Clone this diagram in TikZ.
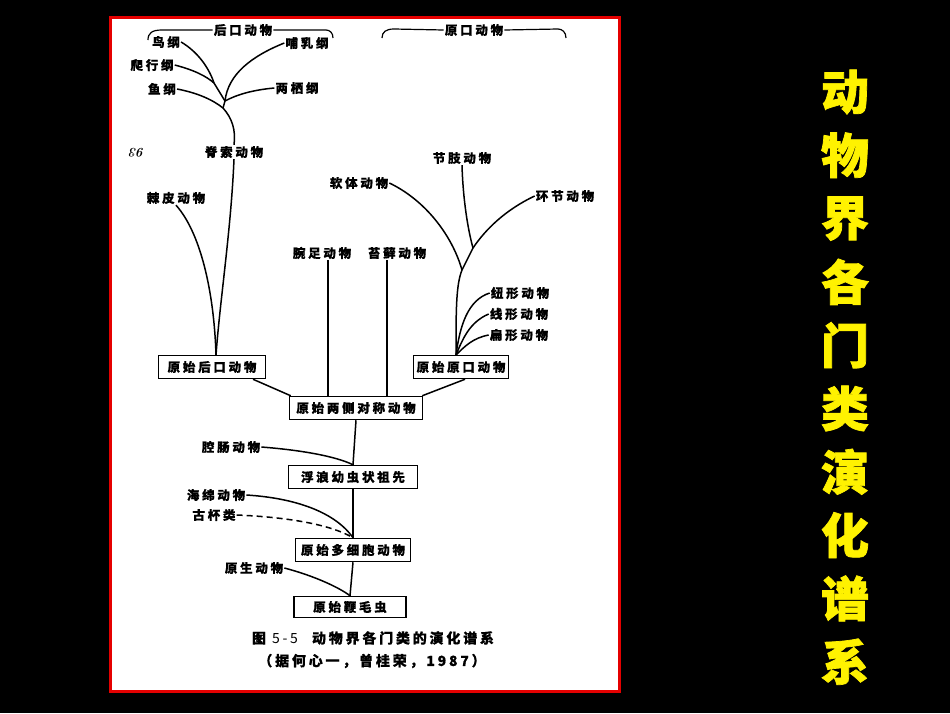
\documentclass[tikz,border=0pt]{standalone}
\usepackage{fontspec}
\newfontfamily\cjk[LetterSpace=22,BoldFeatures={FakeBold=0.6}]{Noto Sans CJK SC}
\newfontfamily\cjkcap[LetterSpace=20,BoldFeatures={FakeBold=0.5}]{Noto Sans CJK SC}
\newfontfamily\cjky[BoldFeatures={FakeBold=1.5}]{Noto Sans CJK SC}
\tikzset{
  lbl/.style={font=\cjk\bfseries\fontsize{12.5}{13}\selectfont, inner sep=1pt, text=black},
  boxn/.style={lbl, draw, line width=1.5pt, inner sep=2.5pt, minimum height=23pt},
  ln/.style={line width=1.5pt, black},
  brk/.style={line width=1.2pt, black},
  ylw/.style={font=\cjky\bfseries\fontsize{48}{48}\selectfont, text=yellow, inner sep=0pt},
  captxt/.style={font=\cjkcap\bfseries\fontsize{14}{15}\selectfont, inner sep=1pt}
}
\begin{document}
\begin{tikzpicture}[x=1pt,y=-1pt]
\useasboundingbox (0,0) rectangle (950,713);
\fill[black] (0,0) rectangle (950,713);
\fill[white] (110,17) rectangle (619,691);
\draw[red!90!black, line width=3pt] (110,17) rectangle (619,691);

% brackets
\node[lbl] (hou) at (243,30) {后口动物};
\node[lbl] (yuank) at (474,30) {原口动物};
\coordinate (hl) at (148,40); \coordinate (hr) at (333,38);
\coordinate (yl) at (382,38); \coordinate (yr) at (566,38);
\draw[brk] (hl) .. controls (148,33) and (152,30) .. (162,30) -- (hou.west);
\draw[brk] (hou.east) -- (326,30) .. controls (330,30) and (333,33) .. (hr);
\draw[brk] (yl) .. controls (382,32) and (386,29) .. (394,29) -- (yuank.west);
\draw[brk] (yuank.east) -- (558,29) .. controls (562,29) and (566,32) .. (yr);

% deuterostome labels
\node[lbl] (niao) at (166,42) {鸟纲};
\node[lbl] (bu) at (307,43) {哺乳纲};
\node[lbl] (pa) at (152,65) {爬行纲};
\node[lbl] (yu) at (162,89) {鱼纲};
\node[lbl] (liang) at (297,88) {两栖纲};
\node[lbl] (jisuo) at (234,152) {脊索动物};
\node[lbl, font=\bfseries\itshape\fontsize{13}{13}\selectfont, rotate=180] (pg) at (137,153) {93};
\node[lbl] (jipi) at (176,198) {棘皮动物};

% protostome labels
\node[lbl] (wan) at (322,253) {腕足动物};
\node[lbl] (tai) at (397,253) {苔藓动物};
\node[lbl] (ruan) at (359,183) {软体动物};
\node[lbl] (jie) at (462,158) {节肢动物};
\node[lbl] (huan) at (565,196) {环节动物};
\node[lbl] (niu) at (520,293) {纽形动物};
\node[lbl] (xian) at (519,314) {线形动物};
\node[lbl] (bian) at (519,335) {扁形动物};

% boxes
\node[boxn, minimum width=107pt] (hk) at (212,367) {原始后口动物};
\node[boxn, minimum width=95pt] (yk) at (461,367) {原始原口动物};
\node[boxn, minimum width=133pt] (ls) at (356,408) {原始两侧对称动物};
\node[boxn, minimum width=129pt] (fl) at (353,477) {浮浪幼虫状祖先};
\node[boxn, minimum width=115pt] (dx) at (353,550) {原始多细胞动物};
\node[boxn, minimum width=112pt, minimum height=21pt] (bm) at (350,607) {原始鞭毛虫};

\node[lbl] (qiang) at (231,447) {腔肠动物};
\node[lbl] (hai) at (216,495) {海绵动物};
\node[lbl] (gu) at (214,515) {古杯类};
\node[lbl] (ys) at (254,568) {原生动物};

% deuterostome tree
\coordinate (jA) at (214,83);
\coordinate (jB) at (225,101);
\coordinate (jC) at (223,108);
\coordinate (hkt) at (216,355);
\draw[ln] (niao.east) .. controls (198,52) and (209,68) .. (jA);
\draw[ln] (pa.east) .. controls (194,70) and (206,76) .. (jA);
\draw[ln] (jA) -- (jB);
\draw[ln] (bu.west) .. controls (252,56) and (228,74) .. (jB);
\draw[ln] (liang.west) .. controls (252,90) and (236,95) .. (jB);
\draw[ln] (jB) -- (jC);
\draw[ln] (yu.east) .. controls (198,93) and (213,100) .. (jC);
\draw[ln] (jC) .. controls (232,118) and (236,130) .. (jisuo.north);
\draw[ln] (jisuo.south) .. controls (231,230) and (220,300) .. (hkt);
\draw[ln] (jipi.south) .. controls (200,232) and (214,290) .. (hkt);

% protostome tree
\coordinate (jP) at (462,270);
\coordinate (jQ) at (473,248);
\coordinate (ykt) at (456,355);
\draw[ln] (ykt) .. controls (456,310) and (456,285) .. (jP);
\draw[ln] (ruan.east) .. controls (425,200) and (452,235) .. (jP);
\draw[ln] (jie.south) .. controls (463,200) and (468,230) .. (jQ);
\draw[ln] (huan.west) .. controls (505,210) and (485,230) .. (jQ) -- (jP);
\draw[ln] (niu.west) .. controls (468,300) and (460,325) .. (ykt);
\draw[ln] (xian.west) .. controls (470,322) and (463,338) .. (ykt);
\draw[ln] (bian.west) .. controls (473,338) and (465,346) .. (ykt);

% verticals
\draw[ln] ([xshift=6pt]wan.south) -- ([xshift=6pt]wan.south |- ls.north);
\draw[ln] ([xshift=-10pt]tai.south) -- ([xshift=-10pt]tai.south |- ls.north);

% box connections
\draw[ln] ([xshift=41pt]hk.south) -- ([xshift=2pt]ls.north west);
\draw[ln] ([xshift=4pt]yk.south) -- ([xshift=-1pt]ls.north east);
\draw[ln] (ls.south) -- (fl.north);
\draw[ln] (qiang.east) .. controls (300,450) and (335,456) .. (fl.north);
\draw[ln] (fl.south) -- (dx.north);
\draw[ln] (hai.east) .. controls (295,498) and (335,512) .. (dx.north);
\draw[ln, dashed, dash pattern=on 6pt off 4pt] (gu.east) .. controls (285,517) and (330,524) .. (dx.north);
\draw[ln] (dx.south) -- (bm.north);
\draw[ln] (ys.east) .. controls (315,576) and (340,588) .. (bm.north);

% caption
\node[captxt] (c1) at (373,638) {图 {\mdseries 5-5}\quad 动物界各门类的演化谱系};
\node[captxt] (c2) at (372,661) {（据何心一，曾桂荣，1987）};

% right title
\foreach \ch [count=\i from 0] in {动,物,界,各,门,类,演,化,谱,系}{
  \node[ylw] (t\i) at (845,92+63.3*\i) {\ch};
}
\end{tikzpicture}
\end{document}
